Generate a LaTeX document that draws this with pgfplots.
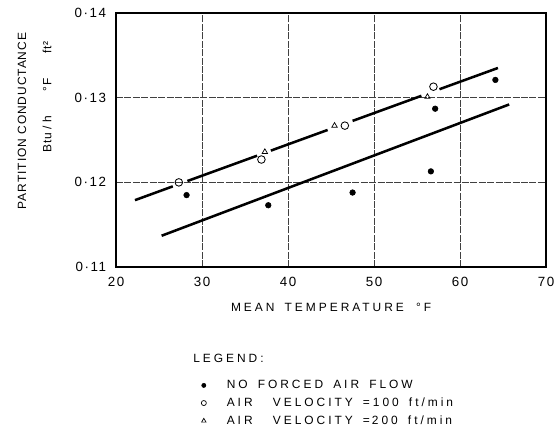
\documentclass[border=0pt]{standalone}
\usepackage{pgfplots}
\pgfplotsset{compat=1.18}
\usepackage{fontspec}
\setmainfont{Liberation Sans}[LetterSpace=15]
\newfontfamily\tickfont{Liberation Sans}[LetterSpace=12]
\newfontfamily\lblfont{Liberation Sans}[LetterSpace=25, WordSpace=1.6]
\newfontfamily\ylblfont{Liberation Sans}[LetterSpace=8]
\begin{document}
\begin{tikzpicture}
\begin{scope}[x=0.025cm,y=-0.025cm]
\useasboundingbox (0,0) rectangle (560,440);
\end{scope}
\begin{axis}[
  at={(2.9cm,-6.675cm)}, anchor=south west,
  scale only axis, width=10.75cm, height=6.35cm,
  xmin=20, xmax=70, ymin=0.11, ymax=0.14,
  xtick={20,30,40,50,60,70}, xticklabels={20,30,40,50,60,70},
  ytick={0.11,0.12,0.13,0.14}, yticklabels={0·11,0·12,0·13,0·14},
  major tick length=0pt,
  axis line style={line width=1.3pt},
  grid=major,
  grid style={line width=0.4pt, black!75, dash pattern=on 5pt off 1pt},
  tick label style={font=\tickfont\fontsize{9.5}{11}\selectfont},
  xticklabel style={yshift=-3.5pt},
  yticklabel style={xshift=-3.5pt},
  xlabel={MEAN TEMPERATURE \,°F},
  xlabel style={font=\lblfont\fontsize{8.5}{10}\selectfont, yshift=-5pt},
  legend style={at={(axis description cs:0.1976,-0.433)}, anchor=north west,
    draw=none, fill=none, inner sep=0pt, row sep=1pt, column sep=12.5pt,
    font=\lblfont\fontsize{8.5}{10}\selectfont},
  legend cell align=left,
]
% lower fitted line
\addplot[line width=1.8pt, forget plot] coordinates {(25.3,0.1137) (65.7,0.1292)};
% upper fitted line (broken at markers)
\addplot[line width=1.8pt, forget plot] coordinates {(22.2,0.1179) (26.6,0.11953)};
\addplot[line width=1.8pt, forget plot] coordinates {(28.3,0.12016) (36.4,0.12315)};
\addplot[line width=1.8pt, forget plot] coordinates {(38.0,0.12375) (44.6,0.12619)};
\addplot[line width=1.8pt, forget plot] coordinates {(47.5,0.12726) (55.5,0.13022)};
\addplot[line width=1.8pt, forget plot] coordinates {(57.6,0.13100) (64.4,0.13351)};
% no forced air flow
\addplot[only marks, mark=*, mark size=2pt, forget plot] coordinates {
  (28.2,0.1185) (37.7,0.1173) (47.5,0.1188) (56.6,0.1213) (57.1,0.1287) (64.1,0.1321)};
% 100 ft/min
\addplot[only marks, mark=o, mark size=2.7pt, mark options={fill=white, line width=0.6pt}, forget plot] coordinates {
  (27.3,0.1200) (36.9,0.1227) (46.6,0.1267) (56.9,0.1313)};
% 200 ft/min
\addplot[only marks, mark=triangle, mark size=2.2pt, mark options={fill=white, line width=0.5pt}, forget plot] coordinates {
  (37.3,0.1236) (45.4,0.1267) (56.2,0.1301)};
\addlegendimage{only marks, mark=*, mark size=1.5pt}
\addlegendentry{NO FORCED AIR FLOW}
\addlegendimage{only marks, mark=o, mark size=1.8pt, mark options={line width=0.5pt}}
\addlegendentry{AIR\ \ VELOCITY\ =100\ ft/min}
\addlegendimage{only marks, mark=triangle, mark size=1.8pt, mark options={line width=0.5pt}}
\addlegendentry{AIR\ \ VELOCITY\ =\,200\ ft/min}
\end{axis}
\begin{scope}[x=0.025cm,y=-0.025cm]
\node[rotate=90, font=\ylblfont\fontsize{8.5}{10}\selectfont] at (22,121) {PARTITION CONDUCTANCE};
\node[rotate=90, font=\ylblfont\fontsize{8.5}{10}\selectfont] at (47,97) {Btu\;/\;h\quad\ \ \ °F\quad\ \ \ ft²};
\node[anchor=west, font=\lblfont\fontsize{8.5}{10}\selectfont, inner sep=0pt] at (193,358) {LEGEND:};
\end{scope}
\end{tikzpicture}
\end{document}
